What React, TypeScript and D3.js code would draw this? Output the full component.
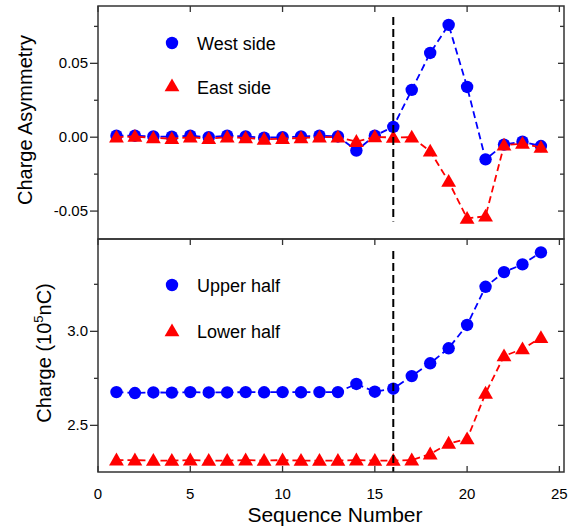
import React from "react";
import * as d3 from "d3";

const seq = d3.range(1, 25);
const westSide = [0.001, 0.001, 0.0005, 0.0003, 0.001, 0.0, 0.001, 0.0005, -0.0003, 0.0, 0.0005, 0.001, 0.0005, -0.009, 0.001, 0.007, 0.032, 0.057, 0.076, 0.034, -0.015, -0.005, -0.003, -0.006];
const eastSide = [0.0, 0.0005, -0.0005, -0.001, 0.0, -0.001, 0.0, -0.0005, -0.0015, -0.001, -0.0005, 0.0, 0.0, -0.003, 0.0002, -0.0002, 0.0, -0.0095, -0.03, -0.055, -0.0535, -0.0055, -0.0043, -0.007];
const upperHalf = [2.677, 2.672, 2.675, 2.674, 2.677, 2.675, 2.675, 2.677, 2.676, 2.677, 2.676, 2.677, 2.677, 2.72, 2.679, 2.695, 2.762, 2.83, 2.91, 3.034, 3.237, 3.315, 3.356, 3.42];
const lowerHalf = [2.315, 2.315, 2.313, 2.313, 2.315, 2.313, 2.313, 2.315, 2.313, 2.315, 2.313, 2.313, 2.313, 2.315, 2.313, 2.313, 2.315, 2.347, 2.404, 2.427, 2.67, 2.869, 2.906, 2.966];
const xTicks = [0, 5, 10, 15, 20, 25];
const topMajor = [-0.05, 0, 0.05];
const topMinor = [-0.05, -0.025, 0, 0.025, 0.05, 0.075];
const botMajor = [2.5, 3.0];
const botMinor = [2.5, 2.75, 3.0, 3.25];
const markerLine = 16;

const W = 574, H = 526;
const L = 98, R = 564;
const T1 = 6, B1 = 239, T2 = 239, B2 = 472;
const FONT = "'Liberation Sans', Arial, sans-serif";

const x = d3.scaleLinear().domain([0, 25.25]).range([L, R]);
const y1 = d3.scaleLinear().domain([-0.0689, 0.0888]).range([B1, T1]);
const y2 = d3.scaleLinear().domain([2.252, 3.491]).range([B2, T2]);

const triPath = d3.symbol().type(d3.symbolTriangle).size(95)()!;

function Series({ xs, ys, yScale, color, kind }: any) {
  const line = d3.line<number>().x((_, i) => x(xs[i])).y((d) => yScale(d));
  return (
    <g>
      <path d={line(ys) || ""} fill="none" stroke={color} strokeWidth={1.8} strokeDasharray="7,4" />
      {ys.map((v: number, i: number) =>
        kind === "circle" ? (
          <circle key={i} cx={x(xs[i])} cy={yScale(v)} r={6.2} fill={color} />
        ) : (
          <path key={i} d={triPath} transform={`translate(${x(xs[i])},${yScale(v) + 1})`} fill={color} />
        )
      )}
    </g>
  );
}

export default function App() {
  const blue = "#0000ff", red = "#ff0000";
  return (
    <svg width={W} height={H} style={{ position: "absolute", left: 0, top: 0, background: "#fff" }} fontFamily={FONT}>
      {/* top panel */}
      <Series xs={seq} ys={westSide} yScale={y1} color={blue} kind="circle" />
      <Series xs={seq} ys={eastSide} yScale={y1} color={red} kind="tri" />
      <line x1={x(markerLine)} x2={x(markerLine)} y1={y1(0.0813)} y2={y1(-0.057)} stroke="#000" strokeWidth={2} strokeDasharray="8,4" />
      {/* bottom panel */}
      <Series xs={seq} ys={upperHalf} yScale={y2} color={blue} kind="circle" />
      <Series xs={seq} ys={lowerHalf} yScale={y2} color={red} kind="tri" />
      <line x1={x(markerLine)} x2={x(markerLine)} y1={y2(3.427)} y2={B2} stroke="#000" strokeWidth={2} strokeDasharray="8,4" />

      {/* frames */}
      <rect x={L} y={T1} width={R - L} height={B1 - T1} fill="none" stroke="#333" strokeWidth={1.5} />
      <rect x={L} y={T2} width={R - L} height={B2 - T2} fill="none" stroke="#333" strokeWidth={1.5} />

      {/* x ticks */}
      {xTicks.map((t) => (
        <g key={t}>
          <line x1={x(t)} x2={x(t)} y1={T1} y2={T1 + 6} stroke="#333" strokeWidth={1.3} />
          <line x1={x(t)} x2={x(t)} y1={T2} y2={T2 + 6} stroke="#333" strokeWidth={1.3} />
          <line x1={x(t)} x2={x(t)} y1={B2} y2={B2 - 6} stroke="#333" strokeWidth={1.3} />
          <text x={x(t)} y={499} textAnchor="middle" fontSize={15} fill="#000">{t}</text>
        </g>
      ))}

      {/* top y ticks */}
      {topMinor.map((t) => {
        const major = topMajor.some((m) => Math.abs(m - t) < 1e-9);
        return (
          <g key={t}>
            <line x1={L} x2={L - (major ? 8 : 4)} y1={y1(t)} y2={y1(t)} stroke="#333" strokeWidth={1.3} />
            <line x1={R} x2={R - (major ? 6 : 4)} y1={y1(t)} y2={y1(t)} stroke="#333" strokeWidth={1.3} />
          </g>
        );
      })}
      {topMajor.map((t) => (
        <text key={t} x={88} y={y1(t) + 5} textAnchor="end" fontSize={15} fill="#000">{t.toFixed(2)}</text>
      ))}

      {/* bottom y ticks */}
      {botMinor.map((t) => {
        const major = botMajor.some((m) => Math.abs(m - t) < 1e-9);
        return (
          <g key={t}>
            <line x1={L} x2={L - (major ? 8 : 4)} y1={y2(t)} y2={y2(t)} stroke="#333" strokeWidth={1.3} />
            <line x1={R} x2={R - (major ? 6 : 4)} y1={y2(t)} y2={y2(t)} stroke="#333" strokeWidth={1.3} />
          </g>
        );
      })}
      {botMajor.map((t) => (
        <text key={t} x={88} y={y2(t) + 5} textAnchor="end" fontSize={15} fill="#000">{t.toFixed(1)}</text>
      ))}

      {/* legends */}
      <circle cx={172} cy={43} r={6.2} fill={blue} />
      <text x={197} y={49.5} fontSize={18} fill="#000">West side</text>
      <path d={triPath} transform="translate(172,87)" fill={red} />
      <text x={197} y={93.5} fontSize={18} fill="#000">East side</text>
      <circle cx={172} cy={285} r={6.2} fill={blue} />
      <text x={197} y={291.5} fontSize={18} fill="#000">Upper half</text>
      <path d={triPath} transform="translate(172,332)" fill={red} />
      <text x={197} y={338} fontSize={18} fill="#000">Lower half</text>

      {/* axis titles */}
      <text transform="translate(32,120) rotate(-90)" textAnchor="middle" fontSize={20} fill="#000">Charge Asymmetry</text>
      <text transform="translate(51,353) rotate(-90)" textAnchor="middle" fontSize={20} fill="#000">
        Charge (10<tspan dy={-8} fontSize={13}>5</tspan><tspan dy={8}>nC)</tspan>
      </text>
      <text x={335} y={522} textAnchor="middle" fontSize={21} fill="#000">Sequence Number</text>
    </svg>
  );
}
